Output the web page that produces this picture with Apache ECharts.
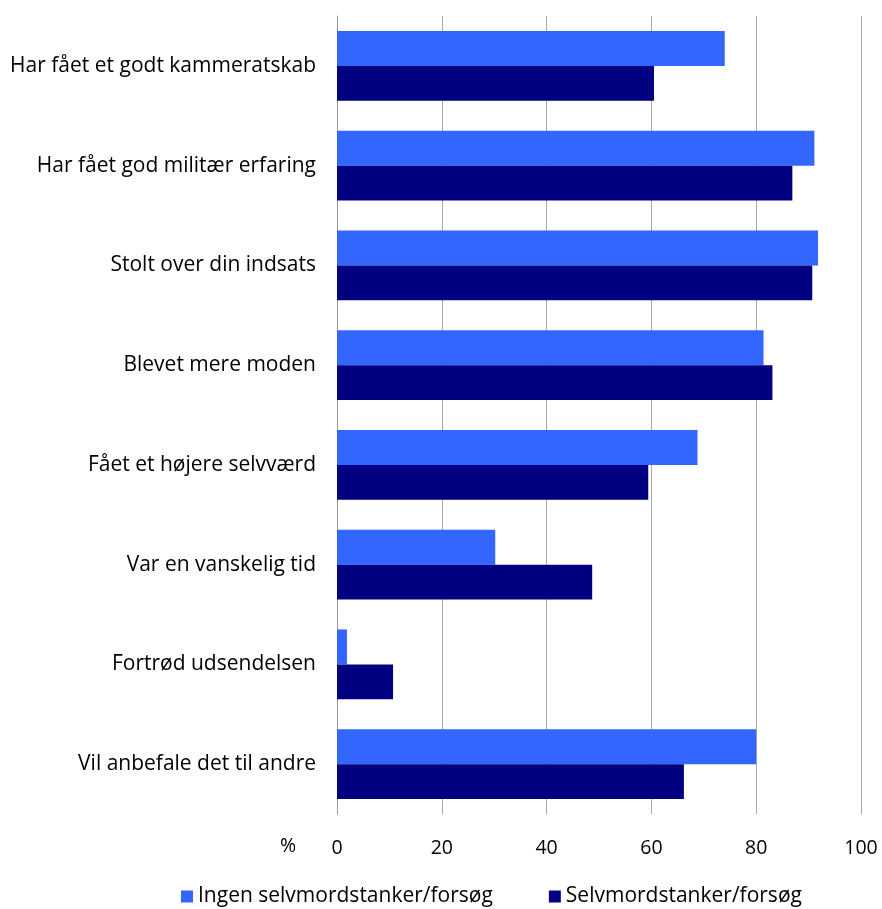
<!DOCTYPE html>
<html>
<head>
<meta charset="utf-8">
<script src="https://cdn.jsdelivr.net/npm/echarts@6/dist/echarts.min.js"></script>
<style>
  html, body { margin: 0; padding: 0; background: #ffffff; }
  #chart { width: 882px; height: 909px; }
</style>
</head>
<body>
<div id="chart"></div>
<script>
// Statements, listed top to bottom as drawn
const categories = [
  'Har fået et godt kammeratskab',
  'Har fået god militær erfaring',
  'Stolt over din indsats',
  'Blevet mere moden',
  'Fået et højere selvværd',
  'Var en vanskelig tid',
  'Fortrød udsendelsen',
  'Vil anbefale det til andre'
];

// Share (%) agreeing, per group
const ingenValues = [74, 91.1, 91.8, 81.4, 68.8, 30.2, 1.9, 80.0];
const selvmordValues = [60.5, 86.9, 90.7, 83.1, 59.4, 48.7, 10.7, 66.2];

const seriesNames = ['Ingen selvmordstanker/forsøg', 'Selvmordstanker/forsøg'];
const xTicks = [0, 20, 40, 60, 80, 100];
const unitLabel = '%';

const FONT = '"Open Sans", "DejaVu Sans", sans-serif';
const chart = echarts.init(document.getElementById('chart'), null, { renderer: 'canvas' });

chart.setOption({
  animation: false,
  backgroundColor: '#ffffff',
  grid: { left: 337, right: 21, top: 16, bottom: 95, containLabel: false },
  legend: {
    bottom: -3,
    left: 176,
    itemWidth: 12,
    itemHeight: 12,
    itemGap: 56,
    icon: 'rect',
    textStyle: { fontFamily: FONT, fontSize: 21, color: '#000000' },
    data: seriesNames
  },
  xAxis: {
    type: 'value',
    min: xTicks[0],
    max: xTicks[xTicks.length - 1],
    interval: 20,
    axisLine: { show: false },
    axisTick: { show: false },
    axisLabel: { fontFamily: FONT, fontSize: 19.5, color: '#000000', margin: 24 },
    splitLine: { show: true, lineStyle: { color: '#aaaaaa', width: 1 } }
  },
  yAxis: {
    type: 'category',
    data: categories,
    inverse: true,
    axisLine: { show: true, lineStyle: { color: '#999999', width: 1 } },
    axisTick: { show: false },
    axisLabel: { fontFamily: FONT, fontSize: 21, color: '#000000', margin: 21 }
  },
  graphic: [{
    type: 'text',
    left: 280,
    top: 836,
    style: { text: unitLabel, font: '19.5px ' + FONT, fill: '#000000' }
  }],
  series: [
    {
      name: seriesNames[0],
      type: 'bar',
      data: ingenValues,
      barGap: '0%',
      barCategoryGap: '30%',
      itemStyle: { color: '#3366ff' }
    },
    {
      name: seriesNames[1],
      type: 'bar',
      data: selvmordValues,
      barGap: '0%',
      barCategoryGap: '30%',
      itemStyle: { color: '#000080' }
    }
  ]
});
</script>
</body>
</html>
